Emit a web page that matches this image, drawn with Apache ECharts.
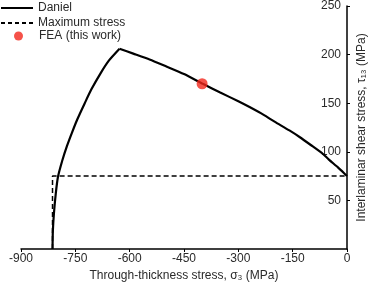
<!DOCTYPE html>
<html><head><meta charset="utf-8">
<script src="https://cdn.jsdelivr.net/npm/echarts@6/dist/echarts.min.js"></script>
<style>html,body{margin:0;padding:0;background:#fff}#c{width:371px;height:283px}</style>
</head><body><div id="c"></div>
<script>
const danielLeftSigma  = [-813,-812,-809,-804,-798,-786,-773,-760,-745,-724,-706,-680,-657,-628];
const danielLeftTau    = [0,19,37,57,74,91,106,119,133,150,164,181,194,206];
const danielRightSigma = [-628,-590,-545,-500,-450,-398,-350,-300,-269,-230,-200,-159,-130,-100,-67,-50,-25,-8,0];
const danielRightTau   = [206,201,195,188,180,170,161,152,146,138,131,122,115,107,98,92,84,78,75];
const maxSigma = [-813,-813,0];
const maxTau   = [0,75,75];
const feaSigma = [-400];
const feaTau   = [170];
const xTicks = {min:-900, max:0, interval:150};
const yTicks = {min:0, max:250, interval:50};

const zip = (a,b)=>a.map((v,i)=>[v,b[i]]);
const font = 'Liberation Sans, Arial, sans-serif';
const txt = '#2a2a2a';
const dashPath = 'path://M0,0h4v2h-4z M7,0h4v2h-4z M14,0h4v2h-4z M21,0h4v2h-4z M28,0h4v2h-4z';
const chart = echarts.init(document.getElementById('c'));
chart.setOption({
  animation:false,
  textStyle:{fontFamily:font},
  grid:{left:21,right:24,top:6,bottom:34,outerBoundsMode:'none',containLabel:false},
  legend:[
    {data:[{name:'Daniel',icon:'rect'}],left:1,top:2,padding:0,itemWidth:32,itemHeight:2,itemGap:6,
     itemStyle:{color:'#000'},textStyle:{fontSize:12,color:txt,fontFamily:font}},
    {data:[{name:'Maximum stress',icon:dashPath}],left:1,top:17,padding:0,itemWidth:32,itemHeight:2,
     itemStyle:{color:'#000'},textStyle:{fontSize:12,color:txt,fontFamily:font}},
    {data:[{name:'FEA (this work)',icon:'circle'}],left:14,top:30,padding:0,itemWidth:9,itemHeight:9,
     textStyle:{fontSize:12,color:txt,fontFamily:font,padding:[0,0,0,11]}}
  ],
  xAxis:{type:'value',min:xTicks.min,max:xTicks.max,interval:xTicks.interval,
    name:'Through-thickness stress, σ₃ (MPa)',nameLocation:'middle',nameGap:18,
    nameTextStyle:{fontSize:12,color:txt,fontFamily:font},
    axisLine:{lineStyle:{color:'#000',width:1.5}},
    axisTick:{length:3,lineStyle:{color:'#000',width:1}},
    axisLabel:{fontSize:12,color:txt,margin:4,fontFamily:font},
    splitLine:{show:false}},
  yAxis:{type:'value',position:'right',min:yTicks.min,max:yTicks.max,interval:yTicks.interval,
    name:'Interlaminar shear stress, τ₁₃ (MPa)',nameLocation:'middle',nameGap:9,nameRotate:90,
    nameTextStyle:{fontSize:12,color:txt,fontFamily:font},
    axisLine:{onZero:false,lineStyle:{color:'#000',width:1.5}},
    axisTick:{length:3,lineStyle:{color:'#000',width:1}},
    axisLabel:{inside:true,fontSize:12,color:txt,margin:6,showMinLabel:false,fontFamily:font},
    splitLine:{show:false}},
  series:[
    {name:'Daniel',type:'line',data:zip(danielLeftSigma,danielLeftTau),showSymbol:false,symbol:'none',smooth:0.2,
     lineStyle:{color:'#000',width:2.2},itemStyle:{color:'#000'},z:3},
    {name:'Daniel',type:'line',data:zip(danielRightSigma,danielRightTau),showSymbol:false,symbol:'none',smooth:0.2,
     lineStyle:{color:'#000',width:2.2},itemStyle:{color:'#000'},z:3},
    {name:'Maximum stress',type:'line',data:zip(maxSigma,maxTau),showSymbol:false,symbol:'none',
     lineStyle:{color:'#000',width:1.5,type:[5,3]},itemStyle:{color:'#000'},z:2},
    {name:'FEA (this work)',type:'scatter',data:zip(feaSigma,feaTau),symbolSize:11,
     itemStyle:{color:'#f2271c'},z:4}
  ]
});
</script></body></html>
